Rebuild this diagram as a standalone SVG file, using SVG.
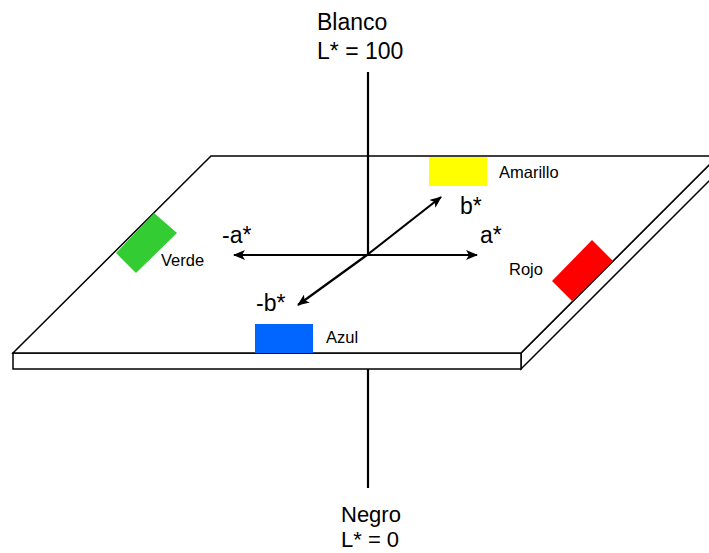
<svg xmlns="http://www.w3.org/2000/svg" width="709" height="553" viewBox="0 0 709 553">
  <style>
    .edge { fill: #ffffff; stroke: #000000; stroke-width: 1.5; stroke-linejoin: miter; }
    .axis { fill: none; stroke: #000000; stroke-width: 2.2; }
    .big { font-family: "Liberation Sans", Arial, sans-serif; font-size: 23px; fill: #000000; }
    .small { font-family: "Liberation Sans", Arial, sans-serif; font-size: 16.5px; fill: #000000; }
  </style>
  <defs>
    <marker id="head" viewBox="0 0 12 10" refX="11" refY="5" markerWidth="12" markerHeight="10" markerUnits="userSpaceOnUse" orient="auto">
      <path d="M0,0 L12,5 L0,10 L3,5 Z" fill="#000000"/>
    </marker>
  </defs>
  <rect width="709" height="553" fill="#ffffff"/>

  <!-- L* axis, upper part -->
  <g id="axis-l-top">
    <line class="axis" x1="368" y1="72" x2="368" y2="160"/>
  </g>

  <!-- colour plane (slab) -->
  <g id="plane">
    <polygon class="edge" points="521,353 718,156 718,172 521,369"/>
    <rect class="edge" x="13" y="353" width="508" height="16"/>
    <polygon class="edge" points="211,156 718,156 521,353 13,353"/>
  </g>

  <!-- L* axis -->
  <g id="axis-l">
    <line class="axis" x1="368" y1="155" x2="368" y2="255"/>
    <line class="axis" x1="368" y1="369" x2="368" y2="488"/>
  </g>

  <!-- colour patches -->
  <g id="amarillo">
    <rect x="429" y="157" width="58" height="29" fill="#ffff00"/>
    <text class="small" x="499" y="178">Amarillo</text>
  </g>
  <g id="azul">
    <rect x="255" y="324" width="58" height="29" fill="#0066ff"/>
    <text class="small" x="326" y="343">Azul</text>
  </g>
  <g id="verde">
    <polygon points="154,213 177,233 136,273 116,253" fill="#33cc33"/>
    <text class="small" x="161" y="266">Verde</text>
  </g>
  <g id="rojo">
    <polygon points="592,240 613,261 572,301 552,281" fill="#ff0000"/>
    <text class="small" x="509" y="275">Rojo</text>
  </g>

  <!-- a* and b* axes -->
  <g id="connectors">
    <line class="axis" x1="368" y1="255" x2="477" y2="255" marker-end="url(#head)"/>
    <line class="axis" x1="368" y1="255" x2="234" y2="255" marker-end="url(#head)"/>
    <line class="axis" x1="367" y1="255" x2="441" y2="197" marker-end="url(#head)"/>
    <line class="axis" x1="367" y1="255" x2="298" y2="305" marker-end="url(#head)"/>
  </g>

  <!-- axis labels -->
  <g id="labels">
    <text class="big" x="317" y="30">Blanco</text>
    <text class="big" x="317" y="59">L* = 100</text>
    <text class="big" x="341" y="522" style="font-size:22px">Negro</text>
    <text class="big" x="341" y="547" style="font-size:22px">L* = 0</text>
    <text class="big" x="222" y="243">-a*</text>
    <text class="big" x="480" y="243">a*</text>
    <text class="big" x="460" y="214">b*</text>
    <text class="big" x="256" y="311">-b*</text>
  </g>
</svg>
